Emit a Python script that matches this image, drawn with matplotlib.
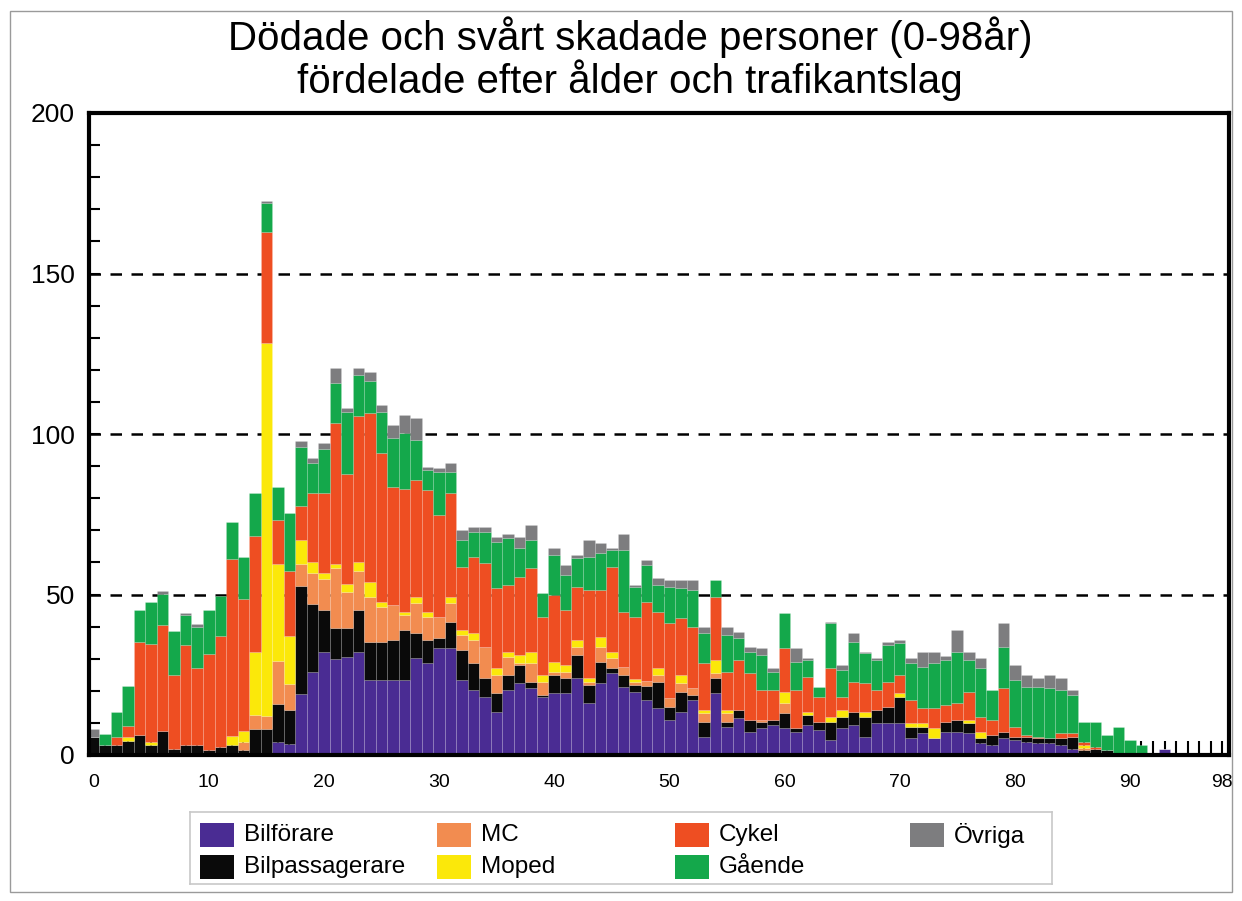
import numpy as np
import matplotlib.pyplot as plt
from matplotlib.patches import Rectangle
from matplotlib.ticker import MultipleLocator

plt.rcParams['font.family'] = ['Liberation Sans', 'DejaVu Sans']

# ages 0..98, one bar per age
ages = np.arange(0, 99)

bilforare = [
    0, 0, 0, 0, 0, 0, 0, 0, 0, 0,
    0, 0, 0, 0, 0, 0, 4, 3.5, 19, 25.8,
    32, 29.8, 30.4, 32, 23.4, 23.4, 23.4, 23.4, 30.1, 28.6,
    33.2, 33.2, 23.4, 20.2, 18.2, 13.5, 20.2, 22.3, 20.8, 18.2,
    19.2, 19.2, 23.9, 16.1, 22.3, 25.4, 21.3, 19.7, 17.1, 14.5,
    10.9, 13.5, 17.1, 5.7, 19.2, 8.8, 11.4, 7.3, 8.3, 9.3,
    8.3, 7.3, 9.3, 7.8, 4.7, 8.3, 9.3, 5.7, 9.9, 9.9,
    9.9, 5.2, 6.7, 5.2, 7.3, 7.3, 6.7, 3.6, 3.1, 5.2,
    4.7, 4.2, 3.6, 3.6, 3.1, 2, 0.5, 0.5, 0.5, 0,
    0, 0, 0, 1.8, 0, 0, 0, 0, 0]

bilpassagerare = [
    5.5, 3, 3, 4.5, 6.3, 3.2, 7.6, 1.8, 3.2, 3.2,
    1.5, 2.5, 3, 1.5, 8, 8, 12, 10.5, 33.6, 21.1,
    13.2, 9.7, 9.1, 13.2, 11.9, 11.9, 12.4, 15.5, 7.8, 7.2,
    3.1, 8.3, 9.3, 8.4, 5.7, 5.7, 4.7, 5.7, 2, 0.5,
    5.7, 4.7, 7.3, 5.7, 6.8, 1.6, 3.6, 2.1, 4.5, 8.3,
    4.2, 6.2, 1.6, 4.7, 4.7, 1.6, 2.6, 3.6, 2.1, 1.6,
    4.7, 1, 3.2, 2.6, 5.7, 3.6, 4.2, 6.2, 4.1, 5.2,
    8.3, 3.6, 2.1, 0, 3.1, 3.6, 3.4, 1.6, 3.1, 2.1,
    1, 1.5, 1.6, 1.6, 2.1, 3.7, 1, 1.5, 1, 0.5,
    0, 0, 0, 0, 0, 0, 0.6, 0, 0]

mc = [
    0, 0, 0, 0, 0, 0, 0, 0, 0, 0,
    0, 0, 0, 2.5, 4.5, 4, 13.2, 8, 6.9, 9.7,
    9.7, 18.8, 11.4, 12, 14, 10.9, 10.9, 4.7, 9.3, 7.3,
    6.7, 5.7, 4.7, 7.2, 9.8, 5.7, 5.7, 0.6, 5.8, 4.1,
    1.1, 2.1, 2.5, 1, 4.6, 3.1, 2.6, 1, 1.5, 2.1,
    2.6, 2.6, 2.1, 2.6, 1.5, 2.6, 0, 0, 0.5, 0,
    3.1, 0, 0, 0, 0, 0, 0, 0, 0, 0,
    0, 0, 0, 0, 0, 0, 0, 0, 0, 0,
    0, 0, 0, 0, 0, 0, 0.8, 0, 0, 0,
    0, 0, 0, 0, 0, 0, 0, 0, 0]

moped = [
    0, 0, 0, 1, 0, 1, 0, 0, 0, 0,
    0, 0, 3, 3.5, 19.5, 116.5, 30.3, 15.2, 7.4, 3.4,
    1.7, 1.2, 2.3, 3, 4.7, 1.6, 0, 1.1, 2.1, 1.6,
    0, 2.1, 1.5, 2.1, 0, 2.1, 1.6, 2.6, 3.6, 2.1,
    3.1, 2, 2.1, 1.1, 3.2, 2.1, 0, 1, 0, 2.1,
    0, 2.6, 0, 1, 4.2, 1, 0, 0, 0, 0,
    3.6, 0, 1, 0, 1.5, 2.1, 0, 1.6, 0, 0,
    1, 1.1, 1.1, 3.1, 0, 0, 0.8, 2.1, 0, 0,
    0, 0, 0, 0, 0, 0, 0.8, 0, 0, 0,
    0, 0, 0, 0, 0, 0, 0, 0, 0]

cykel = [
    0, 0, 2.5, 3.5, 28.8, 30.4, 33, 23, 31, 24,
    30, 34.7, 55, 41.1, 36.3, 34.3, 13.7, 20, 10.8, 21.7,
    25.1, 43.9, 34.2, 45.5, 52.4, 46.2, 36.9, 38.3, 36.4, 37.9,
    31.8, 32.2, 19.8, 23.9, 26, 24.9, 20.8, 24.4, 26, 18.2,
    20.7, 17.2, 16.6, 27.5, 14.5, 26.5, 17.2, 19.3, 24.7, 17.7,
    23.3, 17.7, 19.2, 14.6, 19.7, 12, 15.6, 14.5, 9.3, 9.3,
    13.5, 11.9, 10.9, 7.8, 15.1, 4.2, 9.3, 8.8, 6.2, 7.7,
    5.7, 7.2, 4.6, 6.2, 5.2, 5.2, 8.8, 4.6, 4.7, 13.5,
    3.1, 0.5, 0.5, 0, 1.5, 1, 0.8, 0.5, 0, 0,
    0, 0, 0, 0, 0, 0, 0, 0, 0]

gaende = [
    0, 3.5, 8, 12.5, 10.1, 13, 9.6, 13.8, 9.3, 12.7,
    13.7, 12.4, 11.5, 13.2, 13.4, 9.2, 10.2, 18.3, 18.3, 9.2,
    13.7, 12.6, 19.4, 12.6, 10, 13, 15, 17.2, 12.4, 6.2,
    13.5, 6.8, 8.3, 7.8, 9.9, 14.6, 14.5, 8.8, 8.8, 7.3,
    12.5, 10.8, 8.9, 10.4, 11.4, 5.2, 19.2, 9.3, 11.4, 8.3,
    11.4, 9.3, 11.4, 9.3, 5.2, 11.4, 6.7, 6.8, 11, 5.8,
    10.9, 8.9, 5.2, 3.1, 14, 8.3, 12.5, 9.4, 9.4, 11.5,
    9.9, 11.5, 13, 14.1, 14, 16.1, 9.9, 15.1, 9.3, 12.9,
    14.6, 15.1, 15.6, 15.6, 13.5, 12, 6.5, 7.9, 4.7, 8.3,
    4.7, 3.1, 0, 0, 0, 0, 0, 0, 0]

ovriga = [
    2.5, 0, 0, 0, 0, 0, 0.8, 0, 0.8, 0.8,
    0, 0, 0, 0, 0, 0.5, 0, 0, 1.7, 1.7,
    1.7, 4.5, 1.2, 2.3, 3, 2, 4.2, 5.8, 6.8, 1,
    1, 2.6, 3.1, 1.5, 1.5, 1.5, 1.5, 3.6, 4.7, 0,
    2.1, 3.2, 1, 5.2, 3.2, 0.5, 5.1, 0.6, 1.5, 2,
    2.1, 2.6, 3.1, 2.1, 0, 2.6, 2.1, 1.5, 2, 1,
    0, 4.1, 0.5, 0, 0.5, 1.5, 2.6, 0.5, 0.5, 1,
    1, 1.5, 4.7, 3.6, 1.2, 6.7, 2.6, 3.1, 0, 7.3,
    4.6, 3.6, 2.6, 4.1, 3.7, 1.5, 0, 0, 0, 0,
    0, 0, 0, 0, 0, 0, 0, 0, 0]

labels = ['Bilförare', 'Bilpassagerare', 'MC', 'Moped', 'Cykel', 'Gående', 'Övriga']
colors = ['#4a2c93', '#0a0a0a', '#f28c50', '#fbe80a', '#ee4e22', '#14a84b', '#7d7d7f']
series = [bilforare, bilpassagerare, mc, moped, cykel, gaende, ovriga]

xticks = [0, 10, 20, 30, 40, 50, 60, 70, 80, 90, 98]
yticks = [0, 50, 100, 150, 200]

W, H = 1242, 901
fig = plt.figure(figsize=(W / 100, H / 100), dpi=100)

# thin frame round the whole picture
fig.patches.append(Rectangle((10 / W, 1 - 892 / H), 1222 / W, 881 / H,
                             transform=fig.transFigure, fill=False,
                             edgecolor='#9a9a9a', lw=1))

ax = fig.add_axes([89 / W, 1 - 755 / H, 1140 / W, 642 / H])

bottom = np.zeros(len(ages))
for vals, col, lab in zip(series, colors, labels):
    ax.bar(ages, vals, width=1.0, bottom=bottom, color=col, label=lab,
           edgecolor=(1, 1, 1, 0.18), linewidth=0.5, zorder=2)
    bottom += np.array(vals)

for y in yticks[1:-1]:
    ax.axhline(y, color='black', lw=1.8, ls=(0, (4.6, 3.8)), zorder=1)

ax.set_xlim(-0.4, 98.6)
ax.set_ylim(0, 200)
ax.set_axisbelow(True)

ax.set_xticks(xticks)
ax.xaxis.set_minor_locator(MultipleLocator(1))
ax.set_yticks(yticks)
ax.yaxis.set_minor_locator(MultipleLocator(10))
ax.tick_params(axis='x', which='both', direction='in', length=10, width=1.5,
               labelsize=14, pad=14)
ax.tick_params(axis='y', which='both', direction='in', length=8, width=1.5,
               labelsize=19, pad=10)
for s in ax.spines.values():
    s.set_linewidth(3)
    s.set_zorder(3)

fig.text(630 / W, 1 - 50 / H, 'Dödade och svårt skadade personer (0-98år)',
         ha='center', va='baseline', fontsize=29)
fig.text(630 / W, 1 - 93 / H, 'fördelade efter ålder och trafikantslag',
         ha='center', va='baseline', fontsize=29)

# legend box, laid out in pixel units
lax = fig.add_axes([190 / W, 1 - 884 / H, 862 / W, 72 / H])
lax.set_xlim(190, 1052)
lax.set_ylim(884, 812)
lax.set_xticks([])
lax.set_yticks([])
for s in lax.spines.values():
    s.set_color('#c8c8c8')
    s.set_linewidth(1.2)

col_x = [200, 437, 675, 910]
row_y = [835, 867]
for i, (lab, col) in enumerate(zip(labels, colors)):
    x0 = col_x[i // 2]
    y0 = row_y[i % 2]
    lax.add_patch(Rectangle((x0, y0 - 12), 34, 24, color=col, lw=0))
    lax.text(x0 + 44, y0, lab, ha='left', va='center', fontsize=17.5)

fig.savefig('out.png', dpi=100)
